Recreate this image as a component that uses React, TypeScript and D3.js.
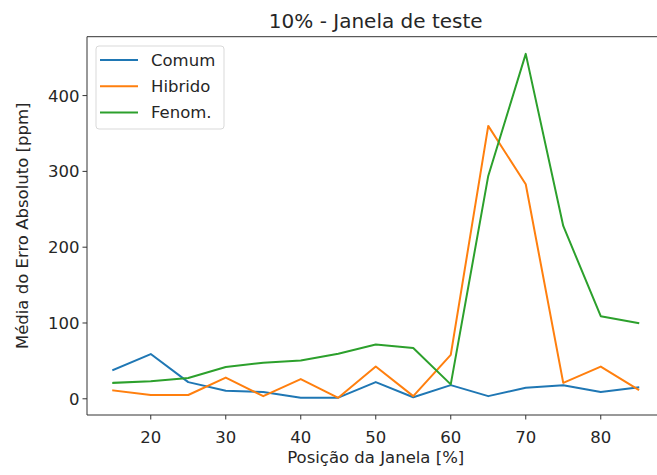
import React from "react";
import * as d3 from "d3";

const positions = [15, 20, 25, 30, 35, 40, 45, 50, 55, 60, 65, 70, 75, 80, 85];
const comum = [38, 59, 22, 10.5, 9, 1.3, 1.5, 22, 2, 18, 3.5, 14.5, 18, 9, 15];
const hibrido = [11, 5, 5, 28, 3.5, 26, 1.3, 42.5, 3.5, 58, 360, 283, 21, 42.5, 12];
const fenom = [21, 23, 27.5, 42, 47.5, 50.5, 59.5, 71.5, 67, 19, 294, 455, 228, 109, 100];

const seriesNames = ["Comum", "Hibrido", "Fenom."];
const seriesColors = ["#1f77b4", "#ff7f0e", "#2ca02c"];
const xTicks = [20, 30, 40, 50, 60, 70, 80];
const yTicks = [0, 100, 200, 300, 400];

const W = 657;
const H = 475;
const left = 87;
const right = 664.5;
const top = 36.7;
const bottom = 415;
const font = "'DejaVu Sans', sans-serif";
const textColor = "#262626";
const fs = 16.5;

export default function App() {
  const allSeries = [comum, hibrido, fenom];
  const xMin = d3.min(positions)!;
  const xMax = d3.max(positions)!;
  const xPad = (xMax - xMin) * 0.05;
  const yAll = allSeries.flat();
  const yMin = d3.min(yAll)!;
  const yMax = d3.max(yAll)!;
  const yPad = (yMax - yMin) * 0.05;

  const x = d3.scaleLinear().domain([xMin - xPad, xMax + xPad]).range([left, right]);
  const y = d3.scaleLinear().domain([yMin - yPad, yMax + yPad]).range([bottom, top]);

  const line = d3
    .line<number>()
    .x((_, i) => x(positions[i]))
    .y((d) => y(d));

  const cx = (left + right) / 2;
  const cy = (top + bottom) / 2;

  return (
    <div style={{ position: "absolute", left: 0, top: 0, width: W, height: H, overflow: "hidden", background: "#fff" }}>
      <svg width={W} height={H} style={{ display: "block", overflow: "hidden" }} fontFamily={font}>
        <rect x={0} y={0} width={W} height={H} fill="#fff" />
        <defs>
          <clipPath id="plot-area">
            <rect x={left} y={top} width={right - left} height={bottom - top} />
          </clipPath>
        </defs>

        <g clipPath="url(#plot-area)">
          {allSeries.map((s, k) => (
            <path
              key={k}
              d={line(s) ?? ""}
              fill="none"
              stroke={seriesColors[k]}
              strokeWidth={2}
              strokeLinejoin="round"
              strokeLinecap="square"
            />
          ))}
        </g>

        {/* spines (the right one lies past the visible edge) */}
        <line x1={left} x2={left} y1={top} y2={bottom} stroke="#333" strokeWidth={1} />
        <line x1={left} x2={right} y1={bottom} y2={bottom} stroke="#333" strokeWidth={1} />
        <line x1={left} x2={right} y1={top} y2={top} stroke="#333" strokeWidth={1} />

        {/* x axis */}
        {xTicks.map((t) => (
          <g key={t} transform={`translate(${x(t)},${bottom})`}>
            <line y1={0} y2={4.5} stroke="#333" strokeWidth={1} />
            <text y={27.5} textAnchor="middle" fontSize={fs} fill={textColor}>
              {t}
            </text>
          </g>
        ))}
        <text x={cx} y={463} textAnchor="middle" fontSize={fs} fill={textColor}>
          Posição da Janela [%]
        </text>

        {/* y axis */}
        {yTicks.map((t) => (
          <g key={t} transform={`translate(${left},${y(t)})`}>
            <line x1={0} x2={-4.5} stroke="#333" strokeWidth={1} />
            <text x={-7.5} dy="0.36em" textAnchor="end" fontSize={fs} fill={textColor}>
              {t}
            </text>
          </g>
        ))}
        <text
          transform={`translate(28,${cy}) rotate(-90)`}
          textAnchor="middle"
          fontSize={fs}
          fill={textColor}
        >
          Média do Erro Absoluto [ppm]
        </text>

        {/* title */}
        <text x={cx} y={27.5} textAnchor="middle" fontSize={20} fill={textColor}>
          10% - Janela de teste
        </text>

        {/* legend */}
        <rect x={96} y={46} width={128} height={83} rx={3} fill="#fff" fillOpacity={0.8} stroke="#d9d9d9" strokeWidth={1} />
        {seriesNames.map((name, k) => {
          const ly = 60 + k * 26.2;
          return (
            <g key={name}>
              <line x1={100} x2={138} y1={ly} y2={ly} stroke={seriesColors[k]} strokeWidth={2} />
              <text x={151} y={ly} dy="0.36em" fontSize={fs} fill={textColor}>
                {name}
              </text>
            </g>
          );
        })}
      </svg>
    </div>
  );
}
